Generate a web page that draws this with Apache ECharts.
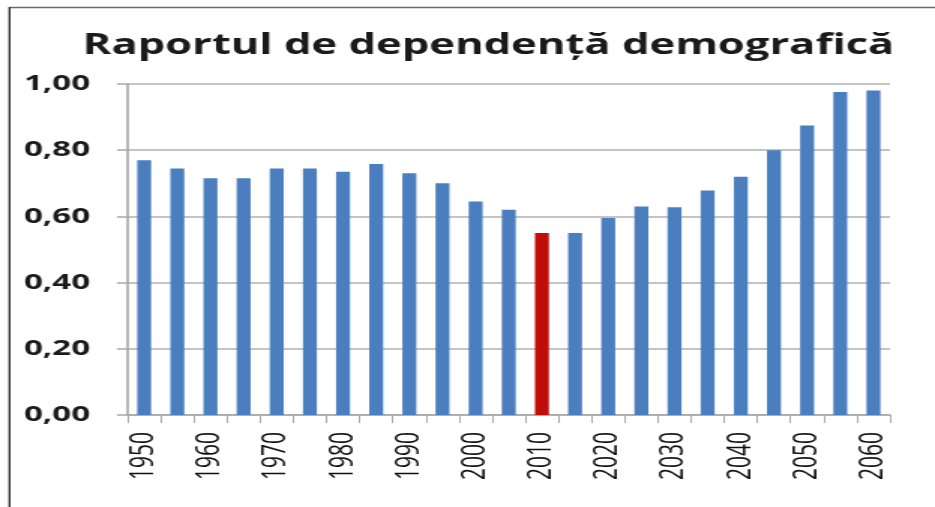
<!DOCTYPE html>
<html>
<head>
<meta charset="utf-8">
<script src="https://cdn.jsdelivr.net/npm/echarts@6/dist/echarts.min.js"></script>
<style>
    html, body { margin: 0; padding: 0; background: #fff; overflow: hidden; }
    /* the source picture is stretched sideways, so the chart is drawn narrow and widened */
    #main { width: 623px; height: 507px; transform: scaleX(1.5008); transform-origin: 0 0; }
</style>
</head>
<body>
<div id="main"></div>
<script>
// data
const years = ['1950', '1955', '1960', '1965', '1970', '1975', '1980', '1985', '1990', '1995', '2000', '2005',
    '2010', '2015', '2020', '2025', '2030', '2035', '2040', '2045', '2050', '2055', '2060']
const ratio = [0.77, 0.745, 0.715, 0.715, 0.745, 0.745, 0.735, 0.758, 0.73, 0.70, 0.645, 0.62,
    0.55, 0.55, 0.595, 0.63, 0.628, 0.678, 0.72, 0.80, 0.875, 0.976, 0.98]
const highlightYear = '2010'
const titleText = 'Raportul de dependență demografică'

let myChart = echarts.init(document.getElementById('main'))

// 2010 bar in red
let barData = ratio.map(function (v, i) {
    if (years[i] === highlightYear) {
        return { value: v, itemStyle: { color: '#c00d0a' } }
    }
    return v
})

let option = {
    animation: false,
    title: {
        text: titleText,
        left: 50,
        top: 26,
        textStyle: { fontFamily: 'Open Sans', fontWeight: 'bold', fontSize: 29, color: '#1a1a1a' }
    },
    grid: { left: 85, right: 30, top: 84, bottom: 92 },
    xAxis: {
        type: 'category',
        data: years,
        axisLine: { lineStyle: { color: '#a8a8a8', width: 1.5 } },
        axisTick: { show: true, interval: 0, length: 8, lineStyle: { color: '#a8a8a8', width: 1 } },
        axisLabel: {
            interval: 1,
            rotate: 90,
            margin: 17,
            fontFamily: 'Open Sans',
            fontSize: 21,
            color: '#111'
        }
    },
    yAxis: {
        type: 'value',
        min: 0,
        max: 1,
        interval: 0.2,
        axisLine: { show: true, lineStyle: { color: '#a0a0a0', width: 1.5 } },
        axisTick: { show: true, length: 7, lineStyle: { color: '#a8a8a8', width: 1.5 } },
        splitLine: { lineStyle: { color: '#b0b0b0', width: 1.5 } },
        axisLabel: {
            margin: 25,
            fontFamily: 'Open Sans',
            fontWeight: 'bold',
            fontSize: 22,
            color: '#1a1a1a',
            formatter: function (v) {
                return v.toFixed(2).replace('.', ',')
            }
        }
    },
    series: [
        {
            type: 'bar',
            data: barData,
            barWidth: '42%',
            itemStyle: { color: '#4a7ebf' }
        }
    ],
    // frame lines at the picture's top and left edges
    graphic: [
        { type: 'line', shape: { x1: 6.3, y1: 7.5, x2: 623, y2: 7.5 }, style: { stroke: '#6a6a6a', lineWidth: 1.5 } },
        { type: 'line', shape: { x1: 6.3, y1: 7, x2: 6.3, y2: 507 }, style: { stroke: '#222', lineWidth: 1.3 } }
    ]
}
myChart.setOption(option)
</script>
</body>
</html>
